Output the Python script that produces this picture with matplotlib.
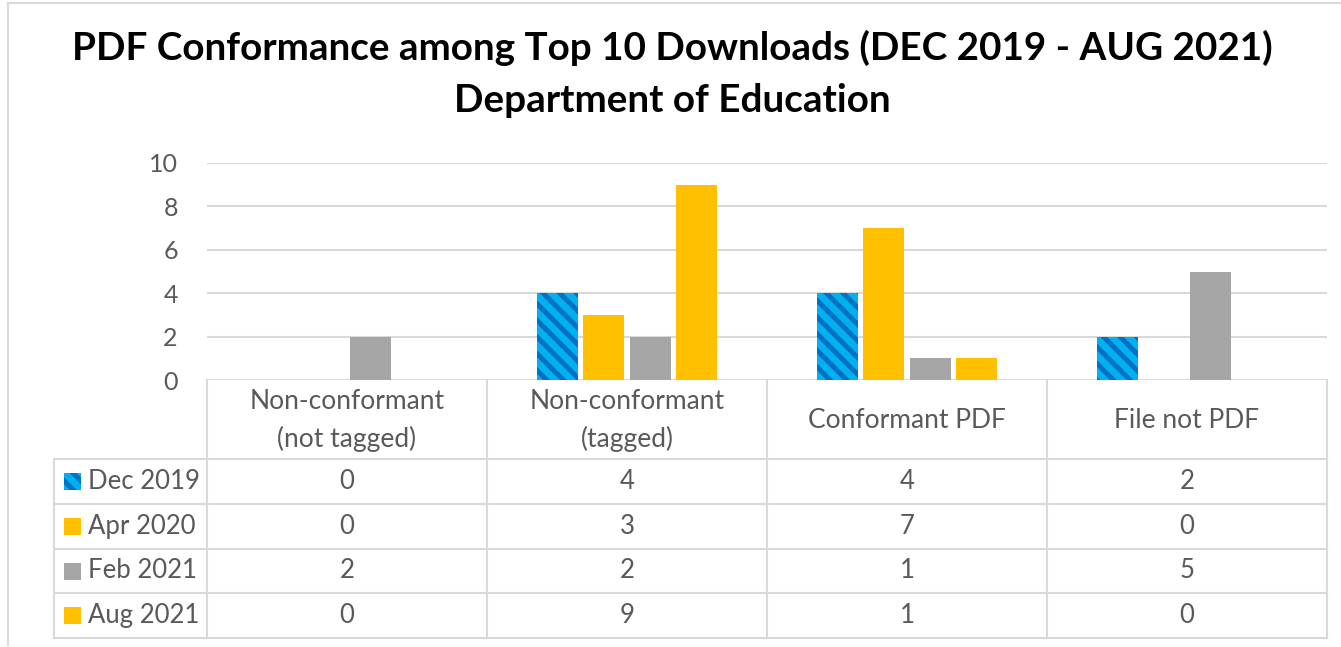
import matplotlib
matplotlib.use('Agg')
import matplotlib.pyplot as plt
import numpy as np

# data
categories = ['Non-conformant\n(not tagged)', 'Non-conformant\n(tagged)', 'Conformant PDF', 'File not PDF']
series_names = ['Dec 2019', 'Apr 2020', 'Feb 2021', 'Aug 2021']
dec_2019 = [0, 4, 4, 2]
apr_2020 = [0, 3, 7, 0]
feb_2021 = [2, 2, 1, 5]
aug_2021 = [0, 9, 1, 0]
y_ticks = [0, 2, 4, 6, 8, 10]

title_lines = ['PDF Conformance among Top 10 Downloads (DEC 2019 - AUG 2021)',
               'Department of Education']

plt.rcParams['font.family'] = ['Lato', 'DejaVu Sans']
plt.rcParams['hatch.linewidth'] = 3.5

W, H = 1341, 647
TEXT = '#595959'
GRID = '#D9D9D9'
FS = 18.5

fig = plt.figure(figsize=(W / 100, H / 100), dpi=100)


def fx(px):
    return px / W


def fy(py):
    return 1 - py / H


# outer chart frame (partly cut off at right/bottom in the original)
fig.add_artist(plt.Line2D([fx(8), fx(W + 5)], [fy(3), fy(3)], color=GRID, linewidth=1.5,
                          transform=fig.transFigure))
fig.add_artist(plt.Line2D([fx(8), fx(8)], [fy(3), fy(645)], color=GRID, linewidth=1.5,
                          transform=fig.transFigure))

# plot area
left, right, top, base = 207, 1327, 163, 380
ax = fig.add_axes([fx(left), fy(base), fx(right - left), (base - top) / H])

series = [dec_2019, apr_2020, feb_2021, aug_2021]
styles = [
    dict(color='#00B0F0', edgecolor='#0070C0', hatch='\\\\', linewidth=0),
    dict(color='#FFC000', linewidth=0),
    dict(color='#A5A5A5', linewidth=0),
    dict(color='#FFC000', linewidth=0),
]
x = np.arange(len(categories))
step = 0.166
width = 0.146
for i, (vals, st) in enumerate(zip(series, styles)):
    ax.bar(x + (i - 1.5) * step, vals, width, zorder=3, **st)

ax.set_xlim(-0.5, len(categories) - 0.5)
ax.set_ylim(0, 10)
ax.set_yticks(y_ticks)
ax.set_xticks([])
ax.tick_params(axis='y', length=0, pad=21, labelsize=18, labelcolor=TEXT)
ax.yaxis.grid(True, color=GRID, linewidth=1.5, zorder=0)
for s in ax.spines.values():
    s.set_visible(False)

# data table under the plot
leg_left = 54
header_bottom = 459
row_h = 44.8
n_rows = len(series_names)
table_bottom = header_bottom + n_rows * row_h
col_w = (right - left) / len(categories)

line_kw = dict(color=GRID, linewidth=1.5, transform=fig.transFigure)
for j in range(len(categories) + 1):
    xp = left + j * col_w
    fig.add_artist(plt.Line2D([fx(xp), fx(xp)], [fy(base), fy(table_bottom)], **line_kw))
fig.add_artist(plt.Line2D([fx(leg_left), fx(leg_left)], [fy(header_bottom), fy(table_bottom)], **line_kw))
for r in range(n_rows + 1):
    yp = header_bottom + r * row_h
    fig.add_artist(plt.Line2D([fx(leg_left), fx(right)], [fy(yp), fy(yp)], **line_kw))

for j, cat in enumerate(categories):
    fig.text(fx(left + (j + 0.5) * col_w), fy((base + header_bottom) / 2 + 1), cat,
             ha='center', va='center', fontsize=19, color=TEXT, linespacing=1.6)

for r, (name, vals, st) in enumerate(zip(series_names, series, styles)):
    yc = header_bottom + (r + 0.5) * row_h
    sw = 17
    fig.patches.append(plt.Rectangle((fx(64), fy(yc + sw / 2)), fx(sw), sw / H,
                                     transform=fig.transFigure, facecolor=st['color'],
                                     edgecolor=st.get('edgecolor', st['color']),
                                     hatch=st.get('hatch'), linewidth=0))
    fig.text(fx(88), fy(yc), name, ha='left', va='center', fontsize=FS, color=TEXT)
    for j, v in enumerate(vals):
        fig.text(fx(left + (j + 0.5) * col_w), fy(yc), str(v), ha='center', va='center',
                 fontsize=FS, color=TEXT)

for yp, line in zip([48, 100], title_lines):
    fig.text(fx(W / 2 + 2), fy(yp), line, ha='center', va='center', fontsize=27.8,
             fontweight='bold', color='black')

fig.savefig('out.png', dpi=100)
